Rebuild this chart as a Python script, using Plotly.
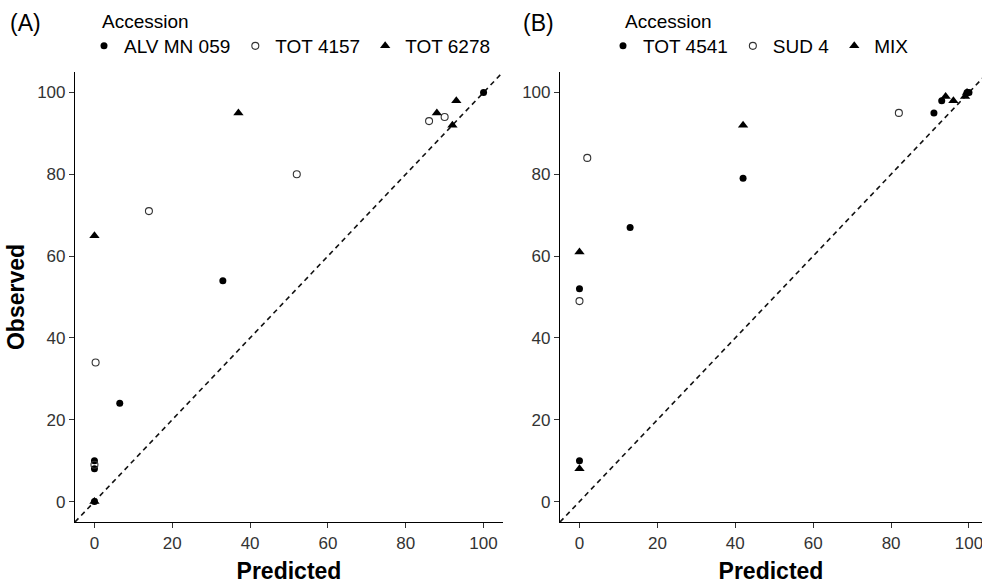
import plotly.graph_objects as go

# ---- data ----
# Panel A
alv_x = [0, 0, 0, 6.5, 33, 100]
alv_y = [0, 8, 10, 24, 54, 100]
tot4157_x = [0, 0.3, 14, 52, 86, 90]
tot4157_y = [9, 34, 71, 80, 93, 94]
tot6278_x = [0, 0, 37, 88, 92, 93]
tot6278_y = [0, 65, 95, 95, 92, 98]
# Panel B
tot4541_x = [0, 0, 13, 42, 91, 93, 99.5, 100]
tot4541_y = [10, 52, 67, 79, 95, 98, 100, 100]
sud4_x = [0, 2, 82]
sud4_y = [49, 84, 95]
mix_x = [0, 0, 42, 94, 96, 99, 99.5]
mix_y = [8, 61, 92, 99, 98, 99, 100]

identity = [-5, 105]
ticks = [0, 20, 40, 60, 80, 100]
names_a = ["ALV MN 059", "TOT 4157", "TOT 6278"]
names_b = ["TOT 4541", "SUD 4", "MIX"]

FONT = "Liberation Sans, Arial, sans-serif"
W, H = 982, 584
ML, MR, MT, MB = 75, 0, 72, 62

def px2paper_x(p):
    return (p - ML) / (W - ML - MR)

def px2paper_y(p):
    return (H - MB - p) / (H - MT - MB)

filled = dict(symbol="circle", size=7, color="black")
openc = dict(symbol="circle-open", size=7, color="#333333", line=dict(width=1.1, color="#333333"))
tri = dict(symbol="triangle-up", size=9, color="black")

fig = go.Figure()

def add_panel(xa, ya, legend, sets):
    fig.add_trace(go.Scatter(x=identity, y=identity, mode="lines",
                             line=dict(color="#111111", width=1.6, dash="5px,4px"),
                             xaxis=xa, yaxis=ya, showlegend=False, hoverinfo="skip"))
    for (xs, ys, nm, mk) in sets:
        fig.add_trace(go.Scatter(x=xs, y=ys, mode="markers", name=nm, marker=mk,
                                 xaxis=xa, yaxis=ya, legend=legend, cliponaxis=False))

add_panel("x", "y", "legend", [(alv_x, alv_y, names_a[0], filled),
                               (tot4157_x, tot4157_y, names_a[1], openc),
                               (tot6278_x, tot6278_y, names_a[2], tri)])
add_panel("x2", "y2", "legend2", [(tot4541_x, tot4541_y, names_b[0], filled),
                                  (sud4_x, sud4_y, names_b[1], openc),
                                  (mix_x, mix_y, names_b[2], tri)])

axis_common = dict(showgrid=False, zeroline=False, showline=True, linecolor="black", linewidth=1.2,
                   ticks="outside", ticklen=5, tickwidth=1.1, tickcolor="#333333", automargin=False,
                   ticklabeloverflow="allow",
                   tickvals=ticks, tickfont=dict(family=FONT, size=17, color="#333333"))
title_font = dict(family=FONT, size=23, color="black")

xa_right = (W - 580) / 3.89  # visible part of panel B

legend_common = dict(orientation="h", xanchor="left", yanchor="middle",
                     font=dict(family=FONT, size=19, color="black"), entrywidth=0,
                     bgcolor="rgba(0,0,0,0)", borderwidth=0)

fig.update_layout(
    width=W, height=H, margin=dict(l=ML, r=MR, t=MT, b=MB, autoexpand=False),
    paper_bgcolor="white", plot_bgcolor="white",
    xaxis=dict(domain=[0, px2paper_x(503)], range=[-5, 105], anchor="y",
               title=dict(text="<b>Predicted</b>", font=title_font, standoff=14), **axis_common),
    yaxis=dict(domain=[0, 1], range=[-5, 105], anchor="x",
               title=dict(text="<b>Observed</b>", font=title_font, standoff=6), **axis_common),
    xaxis2=dict(domain=[px2paper_x(560), 1], range=[-5, xa_right], anchor="y2",
                title=dict(text="<b>Predicted</b>", font=title_font, standoff=14), **axis_common),
    yaxis2=dict(domain=[0, 1], range=[-5, 105], anchor="x2", **axis_common),
    legend=dict(x=px2paper_x(84), y=px2paper_y(46), **legend_common),
    legend2=dict(x=px2paper_x(603), y=px2paper_y(46), **legend_common),
    showlegend=True,
    annotations=[
        dict(text="(A)", x=px2paper_x(8), y=px2paper_y(23), xref="paper", yref="paper",
             xanchor="left", yanchor="middle", showarrow=False, font=dict(family=FONT, size=23, color="black")),
        dict(text="(B)", x=px2paper_x(521), y=px2paper_y(23), xref="paper", yref="paper",
             xanchor="left", yanchor="middle", showarrow=False, font=dict(family=FONT, size=23, color="black")),
        dict(text="Accession", x=px2paper_x(100), y=px2paper_y(22), xref="paper", yref="paper",
             xanchor="left", yanchor="middle", showarrow=False, font=dict(family=FONT, size=19, color="black")),
        dict(text="Accession", x=px2paper_x(623), y=px2paper_y(22), xref="paper", yref="paper",
             xanchor="left", yanchor="middle", showarrow=False, font=dict(family=FONT, size=19, color="black")),
    ],
)

fig.write_html("out.html", config={"displayModeBar": False},
               post_script="document.body.style.margin='0';document.body.style.overflow='hidden';")
